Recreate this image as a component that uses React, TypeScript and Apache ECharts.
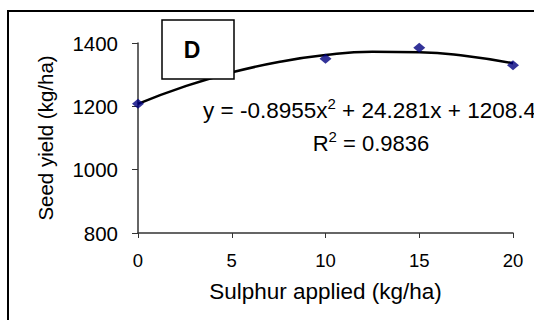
import React, { useEffect, useRef } from "react";
import * as echarts from "echarts";

const sulphurRates = [0, 10, 15, 20];
const seedYield = [1208, 1350, 1385, 1330];
const trendX = [0, 2.5, 5, 7.5, 10, 12.5, 15, 17.5, 20];
const trendY = [1208, 1263, 1307, 1340, 1362, 1372, 1371, 1359, 1336];
const yTicks = [800, 1000, 1200, 1400];
const xTicks = [0, 5, 10, 15, 20];

const FONT = "Liberation Sans, Arial, sans-serif";

export default function App() {
  const ref = useRef<HTMLDivElement>(null);
  useEffect(() => {
    if (!ref.current) return;
    const chart = echarts.init(ref.current, undefined, { renderer: "svg" });
    chart.setOption({
      animation: false,
      backgroundColor: "#fff",
      grid: { left: 138, right: 21, top: 43, bottom: 87 },
      xAxis: {
        type: "value",
        min: xTicks[0],
        max: xTicks[xTicks.length - 1],
        interval: 5,
        name: "Sulphur applied (kg/ha)",
        nameLocation: "middle",
        nameGap: 47,
        nameTextStyle: { fontFamily: FONT, fontSize: 22.5, color: "#000" },
        axisLine: { lineStyle: { color: "#333", width: 1.5 } },
        axisTick: { show: true, length: 5, lineStyle: { color: "#333" } },
        axisLabel: { fontFamily: FONT, fontSize: 18.5, color: "#000", margin: 18 },
        splitLine: { show: false },
      },
      yAxis: {
        type: "value",
        min: yTicks[0],
        max: yTicks[yTicks.length - 1],
        interval: 200,
        name: "Seed yield (kg/ha)",
        nameLocation: "middle",
        nameGap: 82,
        nameTextStyle: { fontFamily: FONT, fontSize: 20.5, color: "#000" },
        axisLine: { show: true, lineStyle: { color: "#333", width: 1.5 } },
        axisTick: { show: true, length: 6, lineStyle: { color: "#333" } },
        axisLabel: {
          fontFamily: FONT,
          fontSize: 20.5,
          color: "#000",
          margin: 20,
          formatter: (v: number) => String(v),
        },
        splitLine: { show: false },
      },
      series: [
        {
          type: "line",
          data: trendX.map((x, i) => [x, trendY[i]]),
          smooth: true,
          showSymbol: false,
          lineStyle: { color: "#000", width: 2.5 },
          z: 2,
        },
        {
          type: "scatter",
          data: sulphurRates.map((x, i) => [x, seedYield[i]]),
          symbol: "diamond",
          symbolSize: [12, 10],
          itemStyle: { color: "#000080" },
          z: 3,
        },
      ],
      graphic: [
        {
          type: "rect",
          shape: { x: 8, y: 11, width: 600, height: 400 },
          style: { fill: "none", stroke: "#000", lineWidth: 2 },
          z: 10,
        },
        {
          type: "rect",
          shape: { x: 162, y: 20, width: 72, height: 59 },
          style: { fill: "#fff", stroke: "#000", lineWidth: 1.5 },
          z: 10,
        },
        {
          type: "text",
          x: 192,
          y: 50,
          style: {
            text: "D",
            fontFamily: FONT,
            fontSize: 23,
            fontWeight: "bold",
            fill: "#000",
            align: "center",
            verticalAlign: "middle",
          },
          z: 11,
        },
        {
          type: "text",
          x: 203,
          y: 110,
          style: {
            text: "y = -0.8955x{sup|2} + 24.281x + 1208.4",
            fontFamily: FONT,
            fontSize: 22.5,
            fill: "#000",
            verticalAlign: "middle",
            rich: {
              sup: { fontSize: 15, fontFamily: FONT, fill: "#000", padding: [0, 0, 13, 0] },
            },
          },
          z: 11,
        },
        {
          type: "text",
          x: 371,
          y: 143,
          style: {
            text: "R{sup|2} = 0.9836",
            fontFamily: FONT,
            fontSize: 22,
            fill: "#000",
            align: "center",
            verticalAlign: "middle",
            rich: {
              sup: { fontSize: 15, fontFamily: FONT, fill: "#000", padding: [0, 0, 13, 0] },
            },
          },
          z: 11,
        },
      ],
    });
    return () => chart.dispose();
  }, []);
  return (
    <div
      ref={ref}
      style={{ position: "fixed", left: 0, top: 0, width: 534, height: 320 }}
    />
  );
}
